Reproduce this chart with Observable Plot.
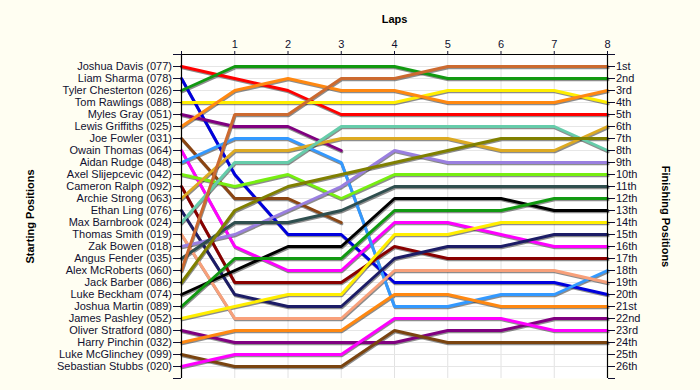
<!DOCTYPE html>
<html><head><meta charset="utf-8">
<script src="https://cdn.jsdelivr.net/npm/d3@7"></script>
<script src="https://cdn.jsdelivr.net/npm/@observablehq/plot@0.6"></script>
<style>
html,body{margin:0;padding:0;background:#fffef2;}
</style></head><body><div id="chart"></div>
<script>
const drivers = [
  "Joshua Davis (077)", "Liam Sharma (078)", "Tyler Chesterton (026)", "Tom Rawlings (088)",
  "Myles Gray (051)", "Lewis Griffiths (025)", "Joe Fowler (031)", "Owain Thomas (064)",
  "Aidan Rudge (048)", "Axel Slijepcevic (042)", "Cameron Ralph (092)", "Archie Strong (063)",
  "Ethan Ling (076)", "Max Barnbrook (024)", "Thomas Smith (019)", "Zak Bowen (018)",
  "Angus Fender (035)", "Alex McRoberts (060)", "Jack Barber (086)", "Luke Beckham (074)",
  "Joshua Martin (089)", "James Pashley (052)", "Oliver Stratford (080)", "Harry Pinchin (032)",
  "Luke McGlinchey (099)", "Sebastian Stubbs (020)"
];
const finishLabels = ["1st","2nd","3rd","4th","5th","6th","7th","8th","9th","10th","11th","12th","13th",
  "14th","15th","16th","17th","18th","19th","20th","21st","22nd","23rd","24th","25th","26th"];
const lapTicks = [1, 2, 3, 4, 5, 6, 7, 8];
const colors = [
  "#ff0000", "#0000dd", "#119911", "#ffee00", "#800080", "#ff8811", "#8b4513", "#ff00ff",
  "#3399ff", "#77ee11", "#880000", "#ddaa22", "#1c1c66", "#66ccaa", "#f8a07a", "#9a7fe0",
  "#2f4f4f", "#cc6a30", "#808000", "#000000", "#119911", "#ffee00", "#800080", "#ff8811",
  "#7a4410", "#ff00ff"
];
// positions by lap, ordered by starting position (null = retired)
const lap0 = [1,2,3,4,5,6,7,8,9,10,11,12,13,14,15,16,17,18,19,20,21,22,23,24,25,26];
const lap1 = [2,10,1,4,6,3,12,16,7,11,19,8,20,9,22,15,14,5,13,18,17,21,24,23,26,25];
const lap2 = [3,15,1,4,6,2,12,18,7,10,19,8,21,9,22,13,14,5,11,16,17,20,24,23,26,25];
const lap3 = [5,15,1,4,8,3,14,18,9,12,19,7,21,6,22,11,13,2,10,16,17,20,24,23,26,25];
const lap4 = [5,19,1,4,null,3,null,14,21,10,16,7,17,6,18,8,11,2,9,12,13,15,24,20,23,22];
const lap5 = [5,19,2,3,null,4,null,14,21,10,17,7,16,6,18,9,11,1,8,12,13,15,23,20,24,22];
const lap6 = [5,19,2,3,null,4,null,15,20,10,17,8,16,6,18,9,11,1,7,12,13,14,23,21,24,22];
const lap7 = [5,19,2,3,null,4,null,16,20,10,17,8,15,6,18,9,11,1,7,13,12,14,22,21,24,23];
const lap8 = [5,20,2,4,null,3,null,16,18,10,17,6,15,8,19,9,11,1,7,13,12,14,22,21,24,23];

const laps = [lap0, lap1, lap2, lap3, lap4, lap5, lap6, lap7, lap8];
const rows = [];
drivers.forEach((name, i) => {
  laps.forEach((lap, l) => {
    if (lap[i] != null) rows.push({driver: i, name, lap: l, pos: lap[i], color: colors[i]});
  });
});

const font = "'Liberation Sans', Arial, sans-serif";
const chart = Plot.plot({
  width: 700,
  height: 390,
  marginTop: 54,
  marginBottom: 12,
  marginLeft: 181,
  marginRight: 93,
  style: {fontFamily: font, fontSize: "11px", background: "#fffef2", color: "#101030", overflow: "visible"},
  x: {domain: [0, 8], axis: null},
  y: {domain: [0, 27], range: [54, 378], axis: null},
  color: {type: "identity"},
  marks: [
    Plot.frame({fill: "white", stroke: "none"}),
    Plot.gridX(lapTicks.slice(0, 7), {stroke: "#e2e2e2", strokeOpacity: 1}),
    Plot.gridY(d3.range(1, 27), {stroke: "#e6e6e6", strokeOpacity: 1}),
    Plot.line(rows, {x: "lap", y: "pos", z: "driver", stroke: "#303030", strokeOpacity: 0.55, strokeWidth: 3, dx: 0.6, dy: 1.3, strokeLinejoin: "miter"}),
    Plot.line(rows, {x: "lap", y: "pos", z: "driver", stroke: "color", strokeWidth: 3, strokeLinejoin: "miter"}),
    Plot.ruleX([0, 8], {stroke: "black", strokeWidth: 1.2}),
    Plot.ruleY([0], {stroke: "black", strokeWidth: 1.2}),
    Plot.axisX([0, ...lapTicks], {anchor: "top", tickFormat: d => d === 0 ? "" : String(d), tickSize: 4, tickPadding: 3, label: null, fontSize: 11}),
    Plot.axisY(d3.range(0, 28), {anchor: "left", tickFormat: d => drivers[d - 1] ?? "", tickSize: 8, tickPadding: 1.5, label: null}),
    Plot.axisY(d3.range(0, 28), {anchor: "right", tickFormat: d => finishLabels[d - 1] ?? "", tickSize: 7, tickPadding: 1.5, label: null}),
    Plot.text(["Laps"], {frameAnchor: "top", dy: -35, lineAnchor: "middle", fontWeight: "bold", fill: "black", fontSize: 11}),
    Plot.text(["Starting Positions"], {frameAnchor: "left", dx: -151, textAnchor: "middle", lineAnchor: "middle", rotate: -90, fontWeight: "bold", fill: "black", fontSize: 11}),
    Plot.text(["Finishing Positions"], {frameAnchor: "right", dx: 58, textAnchor: "middle", lineAnchor: "middle", rotate: 90, fontWeight: "bold", fill: "black", fontSize: 11})
  ]
});
document.getElementById("chart").appendChild(chart);
</script>
</body></html>
